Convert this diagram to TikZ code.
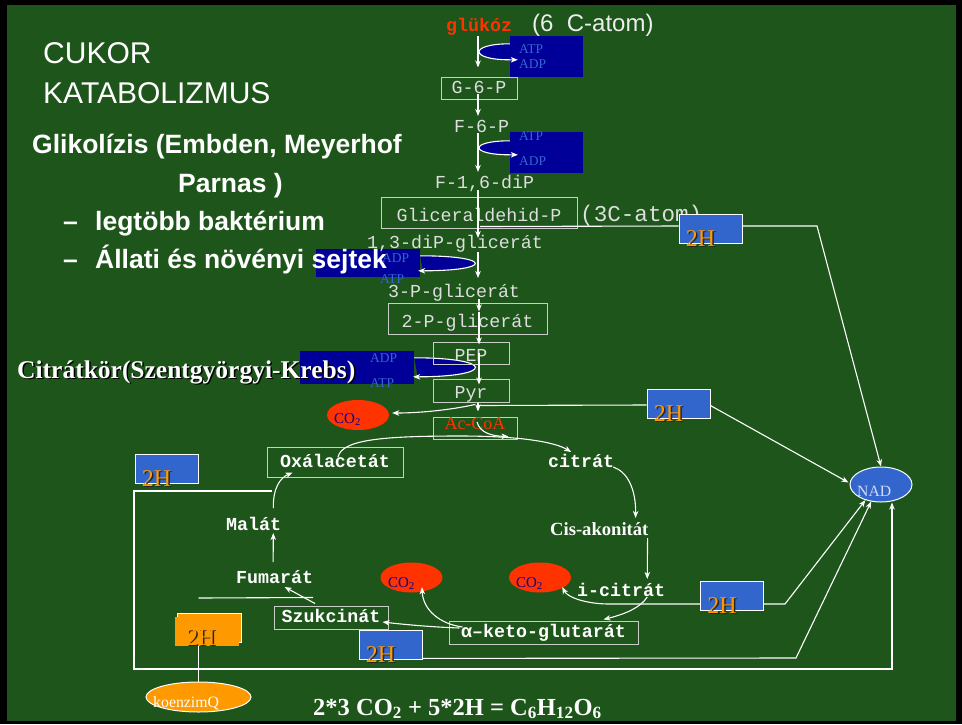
\documentclass[tikz,border=0pt]{standalone}
\usepackage{fontspec}
\setmainfont{Liberation Serif}
\newfontfamily\arialf{Liberation Sans}
\newfontfamily\courf{Liberation Mono}
\usetikzlibrary{arrows.meta,calc,shapes.geometric}
\definecolor{bg}{RGB}{29,85,26}
\definecolor{navy}{RGB}{0,0,153}
\definecolor{hblue}{RGB}{51,102,204}
\definecolor{corange}{RGB}{255,51,0}
\definecolor{orng}{RGB}{255,153,0}
\definecolor{labblue}{RGB}{51,102,204}
\definecolor{gtext}{RGB}{222,222,222}
\definecolor{boxline}{RGB}{200,205,200}
\definecolor{nadtxt}{RGB}{210,218,245}
\newcommand\fsz[1]{\fontsize{#1}{#1}\selectfont}
\tikzset{
  wl/.style={draw=white, line width=1.1pt},
  arr/.style={wl, -{Stealth[length=7pt,width=5.5pt,inset=2pt]}},
  loopst/.style={draw=white, line width=1.1pt, fill=navy, -{Stealth[length=7pt,width=5.5pt,inset=2pt]}},
  monotxt/.style={font=\courf\fsz{18.3}, text=gtext, inner sep=0pt, anchor=base west},
  tcatxt/.style={font=\courf\bfseries\fsz{18.3}, text=white, inner sep=0pt, anchor=base west},
  gbox/.style={draw=boxline, line width=1pt, inner sep=0pt, font=\courf\fsz{18.3}, text=gtext, text height=11.7pt, text depth=0pt},
  tbox/.style={gbox, font=\courf\bfseries\fsz{18.3}, text=white},
  navybox/.style={fill=navy, inner sep=0pt},
  hbox/.style={fill=hblue, draw=white, line width=0.8pt, inner sep=0pt, minimum width=63pt, minimum height=29pt},
  htxt/.style={font=\fsz{24}, inner sep=0pt, anchor=base west},
  atptxt/.style={font=\fsz{13.5}, text=labblue, inner sep=0pt, anchor=base west},
  co2/.style={ellipse, fill=corange, inner sep=0pt, minimum width=62pt, minimum height=30pt},
  co2txt/.style={font=\fsz{15}, text=navy, inner sep=0pt, anchor=base west},
  titletxt/.style={font=\arialf\fsz{30}, text=white, inner sep=0pt, anchor=base west},
  boldtxt/.style={font=\arialf\bfseries\fsz{26.5}, text=white, inner sep=0pt, anchor=base west},
}
\newcommand\twoH[3]{%
  \node[hbox] (#1) at (#2,#3) {};
  \node[htxt, text=black!85] (#1s) at ($(#1.south west)+(8.5,4.5)$) {2H};
  \node[htxt, text=orng] (#1t) at ($(#1.south west)+(7,3)$) {2H};}
\begin{document}
\begin{tikzpicture}[x=1pt,y=-1pt]
\fill[black] (0,0) rectangle (962,724);
\fill[bg] (7,5) rectangle (956,721);
\useasboundingbox (0,0) rectangle (962,724);
\coordinate (tr) at (478,0);

% navy ATP/ADP boxes and loops
\node[navybox, minimum width=73pt, minimum height=41pt] (nv1) at (546.5,56.5) {};
\node[navybox, minimum width=73pt, minimum height=41pt] (nv2) at (546.5,152.5) {};
\node[navybox, minimum width=104pt, minimum height=28pt] (nv3) at (368,263) {};
\node[navybox, minimum width=114pt, minimum height=33pt] (nv4) at (357,367.5) {};
\draw[loopst] ($(nv1.north west)+(0,8)$) .. controls ($(nv1.north west)+(-41,8)$) and ($(nv1.north west)+(-41,24)$) .. ($(nv1.north west)+(0,24)$) -- ($(nv1.north west)+(8,24)$);
\draw[loopst] ($(nv2.north west)+(0,9)$) .. controls ($(nv2.north west)+(-41,9)$) and ($(nv2.north west)+(-41,23)$) .. ($(nv2.north west)+(0,23)$) -- ($(nv2.north west)+(8,23)$);
\draw[loopst] ($(nv3.north east)+(0,7)$) .. controls ($(nv3.north east)+(73,7)$) and ($(nv3.north east)+(73,22)$) .. ($(nv3.north east)+(-2,22)$);
\draw[loopst] ($(nv4.north east)+(0,7)$) .. controls ($(nv4.north east)+(81,7)$) and ($(nv4.north east)+(81,26)$) .. ($(nv4.north east)+(-1,26)$);

% titles
\node[titletxt] (t1) at (43,63) {CUKOR};
\node[titletxt] (t2) at (43,103) {KATABOLIZMUS};
\node[boldtxt] (t3) at (32,153) {Glikolízis (Embden, Meyerhof};
\node[boldtxt] (t4) at (178,192) {Parnas )};
\node[boldtxt] (b1d) at (63,230) {–};
\node[boldtxt] (b1) at (95,230) {legtöbb baktérium};
\node[boldtxt] (b2d) at (63,268) {–};
\node[boldtxt] (b2) at (95,268) {Állati és növényi sejtek};
\node[font=\bfseries\fsz{25.5}, text=black, inner sep=0pt, anchor=base west] (krs) at (18.5,379.5) {Citrátkör(Szentgyörgyi-Krebs)};
\node[font=\bfseries\fsz{25.5}, text=white, inner sep=0pt, anchor=base west] (kr) at (17,378) {Citrátkör(Szentgyörgyi-Krebs)};

% ATP / ADP labels
\node[atptxt] (a1) at (519,53) {ATP};
\node[atptxt] (d1) at (519,68) {ADP};
\node[atptxt] (a2) at (519,140) {ATP};
\node[atptxt] (d2) at (519,165) {ADP};
\node[atptxt] (d3) at (382,262) {ADP};
\node[atptxt] (a3) at (380,283) {ATP};
\node[atptxt] (d4) at (370,362) {ADP};
\node[atptxt] (a4) at (370,387) {ATP};

% glycolysis
\node[font=\courf\bfseries\fsz{18.3}, text=corange, inner sep=0pt, anchor=base west] (glukoz) at (446,31) {glükóz};
\node[font=\arialf\fsz{24}, text=white!93!black, inner sep=0pt, anchor=base west] (c6) at (532,31) {(6\ \ C-atom)};
\node[gbox, minimum width=76pt, minimum height=22pt] (g6p) at (479,88) {G-6-P};
\node[monotxt] (f6p) at (454,132) {F-6-P};
\node[monotxt] (f16) at (435,188) {F-1,6-diP};
\node[gbox, minimum width=196pt, minimum height=31pt, text height=17pt] (gap) at (479,212.5) {Gliceraldehid-P};
\node[monotxt, font=\courf\fsz{22.6}] (c3) at (580,221) {(3C-atom)};
\node[monotxt] (bpg) at (367,248) {1,3-diP-glicerát};
\node[monotxt] (pg3) at (388,297) {3-P-glicerát};
\node[gbox, minimum width=159pt, minimum height=31pt, text height=17pt] (pg2) at (467.5,318.5) {2-P-glicerát};
\node[gbox, minimum width=76pt, minimum height=22pt, text height=16pt] (pep) at (471,353) {PEP};
\node[gbox, minimum width=76pt, minimum height=23pt, text height=15pt] (pyr) at (471,390.5) {Pyr};
\node[gbox, minimum width=84pt, minimum height=22pt, font=\fsz{18}, text=corange, text height=9pt, text depth=7pt] (acoa) at (475,428) {Ac-CoA};

% CO2 ellipses
\node[co2] (co2a) at (358,415) {};
\node[co2] (co2b) at (411.5,577.5) {};
\node[co2] (co2c) at (540,577.5) {};
\node[co2txt] (co2at) at ($(co2a.center)+(-24,8.5)$) {CO\textsubscript{2}};
\node[co2txt] (co2bt) at ($(co2b.center)+(-23.5,9.5)$) {CO\textsubscript{2}};
\node[co2txt] (co2ct) at ($(co2c.center)+(-24,9.5)$) {CO\textsubscript{2}};

% NAD
\node[ellipse, fill=hblue, draw=white, line width=1pt, minimum width=62pt, minimum height=35pt, inner sep=0pt] (nad) at (881,484.5) {};
\node[font=\fsz{15.7}, text=nadtxt, inner sep=0pt, anchor=base west] (nadt) at (857,496) {NAD};

% TCA cycle
\node[tbox, minimum width=136pt, minimum height=30pt] (oxal) at (335,462) {Oxálacetát};
\node[tcatxt] (citrat) at (548,467) {citrát};
\node[font=\bfseries\fsz{18.6}, text=white, inner sep=0pt, anchor=base west] (cisak) at (550,535) {Cis-akonitát};
\node[tcatxt] (icit) at (577,596) {i-citrát};
\node[tbox, minimum width=189pt, minimum height=23pt, text height=9pt] (akg) at (543.5,632.5) {α–keto-glutarát};
\node[tbox, minimum width=114pt, minimum height=23pt, text height=9pt] (szuk) at (331,617.5) {Szukcinát};
\node[tcatxt] (fumarat) at (236,583) {Fumarát};
\node[tcatxt] (malat) at (226,530) {Malát};

% 2H boxes
\twoH{hA}{710.5}{228.5}
\twoH{hB}{678.5}{403.5}
\twoH{hC}{166.5}{468.5}
\twoH{hD}{732}{595.5}
\twoH{hE}{390.5}{644.5}

% orange 2H and koenzimQ
\node[draw=white, line width=1pt, fill=orng, minimum width=64pt, minimum height=29pt, inner sep=0pt] (qbg) at (209,627.5) {};
\node[fill=orng, minimum width=64pt, minimum height=29pt, inner sep=0pt] (qbox) at (207,631.5) {};
\node[htxt, text=black!85] (qts) at (187.5,646.5) {2H};
\node[htxt, text=orng] (qt) at (186,645) {2H};
\node[ellipse, fill=orng, draw=white, line width=1pt, minimum width=105pt, minimum height=30pt, inner sep=0pt] (koenz) at (198.5,697) {};
\node[font=\fsz{15.8}, text=white, inner sep=0pt, anchor=base west] (koenzt) at (153,707) {koenzimQ};

% formula
\node[font=\bfseries\fsz{24.5}, text=white, inner sep=0pt, anchor=base west] (formula) at (313,715) {2*3 CO\textsubscript{2} + 5*2H = C\textsubscript{6}H\textsubscript{12}O\textsubscript{6}};

% coordinates for bends
\coordinate (k1) at (817,226);
\coordinate (k2) at (785,604);
\coordinate (k3) at (796,658);
\coordinate (r0) at (272,491);
\coordinate (r1) at (134,491);
\coordinate (r2) at (134,669);
\coordinate (r3) at (892,669);
\coordinate (qtop) at (198.5,598);

% glycolysis arrows
\draw[arr] ($(glukoz.base -| tr)+(0,5)$) -- ($(g6p.north -| tr)+(0,-9)$);
\draw[arr] ($(g6p.south -| tr)+(0,-6)$) -- ($(f6p.base -| tr)+(0,-16)$);
\draw[arr] ($(f6p.base -| tr)+(0,1)$) -- ($(f16.base -| tr)+(0,-16)$);
\draw[arr] ($(f16.base -| tr)+(0,2)$) -- ($(bpg.base -| tr)+(0,-10)$);
\draw[arr] ($(bpg.base -| tr)+(0,4)$) -- ($(pg3.base -| tr)+(0,-19)$);
\draw[arr] ($(pg3.base -| tr)+(1,2)$) -- ($(pg2.north -| tr)+(1,9)$);
\draw[arr] ($(pg2.north -| tr)+(1,9)$) -- ($(pep.north -| tr)+(1,3)$);
\draw[arr] ($(pep.south -| tr)+(1,-12)$) -- ($(pyr.north -| tr)+(1,6)$);
\draw[arr] (pyr.south -| tr) -- ($(acoa.north -| tr)+(0,-5)$);
\draw[arr] ($(pyr.south -| tr)+(-3,2)$) .. controls (450,410) and (420,413) .. ($(co2a.east)+(3,-2)$);

% hydrogen lines to NAD
\draw[wl] ($(gap.south -| tr)+(2,-2)$) -- ($(hA.west)+(0,-2.5)$);
\draw[arr] ($(hA.east)+(0,-2.5)$) -- (k1) -- (nad.north);
\draw[wl] ($(pyr.south -| tr)+(0,3)$) -- ($(hB.west)+(0,1.5)$);
\draw[arr] ($(hB.east)+(0,2)$) -- ($(nad.west)+(-1,-2)$);
\draw[arr] ($(hD.east)+(0,8.5)$) -- (k2) -- (nad.225);
\draw[arr] ($(hE.south east)+(0,-1)$) -- (k3) -- (nad.240);
\draw[arr] (r0) -- (r1) -- (r2) -- (r3) -- (r3 |- nad.south);

% TCA arrows
\draw[arr] ($(hD.west)+(0,8.5)$) -- ($(hD.west)+(-91,8.5)$) .. controls (588,604) and (568,598) .. ($(co2c.east)+(-9,9.5)$);
\draw[arr] ($(icit.base east)+(-18,1)$) .. controls (640,608) and (625,614) .. ($(akg.north east)+(-35,-1)$);
\draw[arr] ($(cisak.base east)+(-1,3)$) -- ($(icit.base east)+(-18,-17)$);
\draw[arr] ($(citrat.base east)+(-1,0)$) .. controls (628,472) and (636,490) .. ($(cisak.base east)+(-13,-17)$);
\draw[arr] ($(oxal.center)+(3,-5)$) .. controls (342,440) and (380,436) .. (460,436) .. controls (520,436) and (555,442) .. ($(citrat.base)+(-10,-15)$);
\draw[arr] ($(acoa.center)+(2,-6)$) .. controls (480,433) and (492,436) .. ($(acoa.south east)+(-9,-3)$);
\draw[arr] ($(malat.base east)+(-8,-22)$) .. controls (273,488) and (280,478) .. ($(oxal.south west)+(26,-5)$);
\draw[arr] ($(fumarat.base)+(-1.5,-21)$) -- ($(malat.base east)+(-8,3)$);
\draw[arr] ($(szuk.north)+(-16,-2)$) -- ($(fumarat.base)+(10,4)$);
\draw[arr] ($(akg.west)+(11,-4.5)$) .. controls (430,627) and (400,624) .. ($(szuk.east)+(-6,4.5)$);
\draw[arr] ($(akg.west)+(14,-5.5)$) .. controls (440,624) and (423,610) .. ($(co2b.south)+(10.5,-5.5)$);

% koenzimQ links
\draw[wl] (qbox.south -| koenz.north) -- (koenz.north);
\draw[wl] (qtop) -- ($(szuk.north)+(-18,-8)$);
\end{tikzpicture}
\end{document}
